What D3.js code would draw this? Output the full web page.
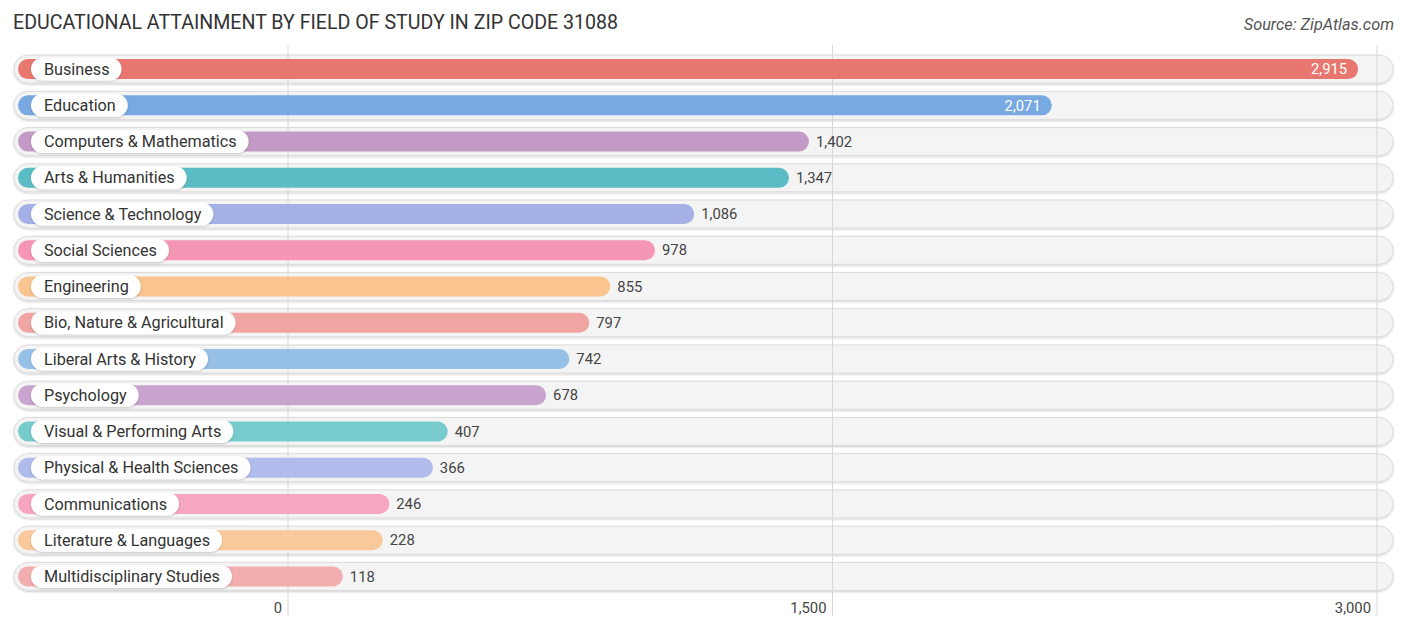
<!DOCTYPE html>
<html>
<head>
<meta charset="utf-8">
<script src="https://cdn.jsdelivr.net/npm/d3@7"></script>
<style>
  html, body { margin: 0; padding: 0; background: #fff; }
  svg { display: block; font-family: Roboto, "Noto Sans", sans-serif; }
</style>
</head>
<body>
<svg id="chart" width="1406" height="631"></svg>
<script>
const categories = [
  "Business", "Education", "Computers & Mathematics", "Arts & Humanities",
  "Science & Technology", "Social Sciences", "Engineering", "Bio, Nature & Agricultural",
  "Liberal Arts & History", "Psychology", "Visual & Performing Arts",
  "Physical & Health Sciences", "Communications", "Literature & Languages",
  "Multidisciplinary Studies"
];
const values = [2915, 2071, 1402, 1347, 1086, 978, 855, 797, 742, 678, 407, 366, 246, 228, 118];
const colors = [
  "#e8776f", "#78a9e0", "#c29ac5", "#5bbcc5", "#a4b1e6", "#f596b4", "#f9c48f",
  "#f0a5a2", "#97c0e7", "#c8a4cf", "#77cbcd", "#b1bcec", "#f7a5c0", "#f9c99b", "#f2aeae"
];
const tickValues = [0, 1500, 3000];
const title = "EDUCATIONAL ATTAINMENT BY FIELD OF STUDY IN ZIP CODE 31088";
const source = "Source: ZipAtlas.com";

const svg = d3.select("#chart");
const defs = svg.append("defs");
const f = defs.append("filter").attr("id", "sh").attr("x", "-5%").attr("y", "-30%").attr("width", "110%").attr("height", "160%");
f.append("feDropShadow").attr("dx", 0).attr("dy", 1).attr("stdDeviation", 1.3).attr("flood-color", "#000").attr("flood-opacity", 0.2);
const f2 = defs.append("filter").attr("id", "sh2").attr("x", "-10%").attr("y", "-30%").attr("width", "120%").attr("height", "160%");
f2.append("feDropShadow").attr("dx", 0).attr("dy", 1).attr("stdDeviation", 1).attr("flood-color", "#000").attr("flood-opacity", 0.2);

const x = d3.scaleLinear().domain([0, 3000]).range([288, 1377]);
const y = d3.scaleBand().domain(categories).range([51, 594.5]).paddingInner(0).paddingOuter(0);
const cy = d => y(d) + y.bandwidth() / 2;

svg.append("text").attr("x", 13).attr("y", 29).attr("font-size", 19.6).attr("fill", "#333")
  .text(title);
svg.append("text").attr("x", 1394).attr("y", 30).attr("text-anchor", "end").attr("font-size", 16.3)
  .attr("font-style", "italic").attr("fill", "#555").text(source);

const trackH = 28, barH = 20, pillH = 23;

// tracks
svg.append("g").selectAll("rect").data(categories).join("rect")
  .attr("x", 14).attr("y", d => cy(d) - trackH / 2)
  .attr("width", 1393 - 14).attr("height", trackH)
  .attr("rx", trackH / 2).attr("fill", "#f4f4f4").attr("stroke", "#dcdcdc").attr("stroke-width", 1)
  .attr("filter", "url(#sh)");

// gridlines
svg.append("g").selectAll("line").data(tickValues).join("line")
  .attr("x1", d => x(d)).attr("x2", d => x(d)).attr("y1", 45).attr("y2", 616)
  .attr("stroke", "#d8d8d8").attr("stroke-width", 1);

// bars
const rows = svg.append("g").selectAll("g").data(categories).join("g");
rows.append("rect")
  .attr("x", 18).attr("y", d => cy(d) - barH / 2)
  .attr("width", (d, i) => x(values[i]) + 12 - 18).attr("height", barH)
  .attr("rx", barH / 2).attr("fill", (d, i) => colors[i]);

// label pills
rows.each(function(d) {
  const g = d3.select(this);
  const t = g.append("text").attr("x", 44).attr("y", cy(d)).attr("dy", "0.35em")
    .attr("font-size", 16.2).attr("fill", "#333").text(d);
  const w = t.node().getComputedTextLength();
  g.insert("rect", "text")
    .attr("x", 31).attr("y", cy(d) - pillH / 2).attr("width", w + 25).attr("height", pillH)
    .attr("rx", pillH / 2).attr("fill", "#fff").attr("filter", "url(#sh2)");
});

// values
rows.append("text")
  .attr("x", (d, i) => values[i] > 2000 ? x(values[i]) + 12 - 11 : x(values[i]) + 12 + 7)
  .attr("y", d => cy(d)).attr("dy", "0.35em")
  .attr("text-anchor", (d, i) => values[i] > 2000 ? "end" : "start")
  .attr("font-size", 14.8).attr("fill", (d, i) => values[i] > 2000 ? "#fff" : "#444")
  .text((d, i) => d3.format(",")(values[i]));

// axis
svg.append("g").selectAll("text").data(tickValues).join("text")
  .attr("x", d => x(d) - 6).attr("y", 613).attr("text-anchor", "end")
  .attr("font-size", 14.8).attr("fill", "#444").text(d => d3.format(",")(d));
</script>
</body>
</html>
